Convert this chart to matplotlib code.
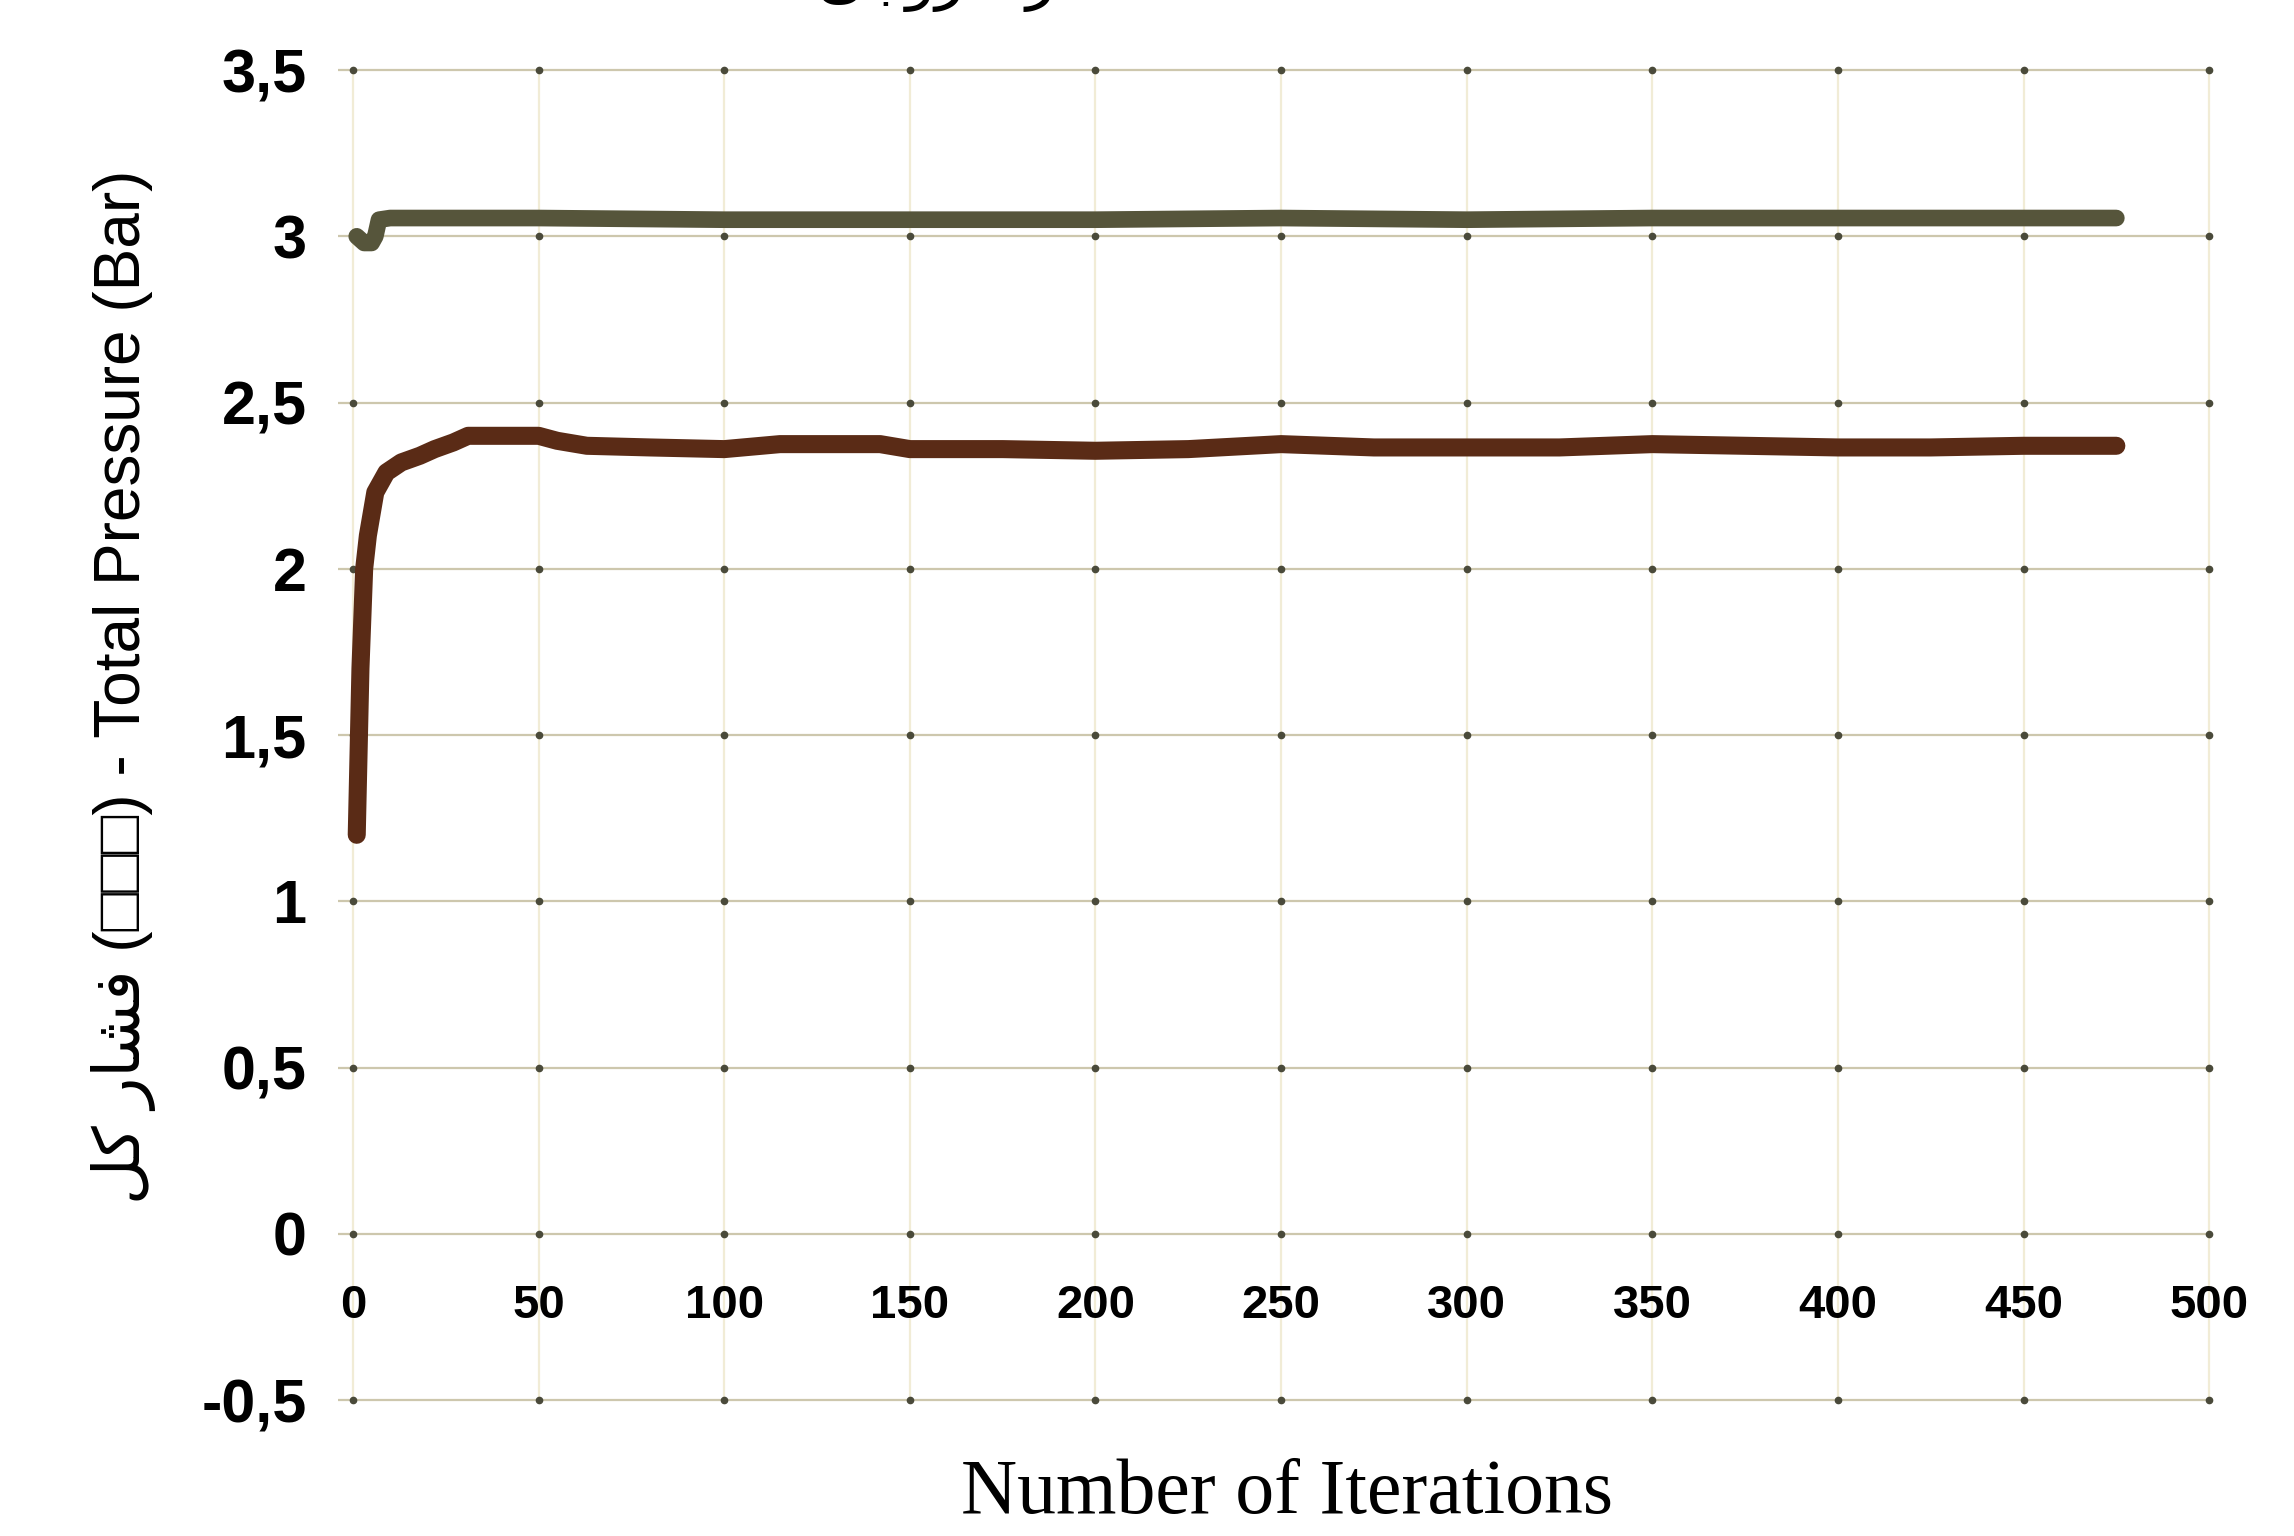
import matplotlib
matplotlib.use("Agg")
import matplotlib.pyplot as plt
from matplotlib import font_manager
import numpy as np

# ---- data ----
upper_x = [1, 3, 5, 6, 7, 10, 20, 50, 100, 150, 200, 250, 300, 350, 400, 450, 475]
upper_y = [3.00, 2.98, 2.98, 3.00, 3.05, 3.055, 3.055, 3.055, 3.05, 3.05, 3.05, 3.055, 3.05, 3.055, 3.055, 3.055, 3.055]

lower_x = [1, 2, 3, 4, 6, 9, 13, 18, 22, 27, 31, 40, 50, 55, 63, 80, 100, 115, 142, 150,
           175, 200, 225, 250, 275, 300, 325, 350, 375, 400, 425, 450, 475]
lower_y = [1.20, 1.70, 2.00, 2.10, 2.23, 2.29, 2.32, 2.34, 2.36, 2.38, 2.40, 2.40, 2.40, 2.385, 2.37, 2.365,
           2.36, 2.375, 2.375, 2.36, 2.36, 2.355, 2.36, 2.375, 2.365, 2.365, 2.365, 2.375, 2.37, 2.365,
           2.365, 2.37, 2.37]

x_ticks = [0, 50, 100, 150, 200, 250, 300, 350, 400, 450, 500]
y_ticks = [-0.5, 0, 0.5, 1, 1.5, 2, 2.5, 3, 3.5]
y_tick_labels = ["-0,5", "0", "0,5", "1", "1,5", "2", "2,5", "3", "3,5"]

title_fa = "\uFBFD\uFE9F\uFEED\uFEAE\uFEA7 \uFEAD\uFE8E\uFEB8\uFED3"   # فشار خروجی (visual order)
title_en = "Outlet Pressure"
ylabel_text = "\uFEDE\uFB90 \uFEAD\uFE8E\uFEB8\uFED3 (\u25A1\u25A1\u25A1) - Total Pressure (Bar)"
xlabel_text = "Number of Iterations"

# ---- fonts ----
names = {f.name for f in font_manager.fontManager.ttflist}
narrow = "Liberation Sans Narrow" if "Liberation Sans Narrow" in names else "Liberation Sans"

fig = plt.figure(figsize=(22.94, 15.36), dpi=100)
ax = fig.add_axes([0.1458, 0.0777, 0.8253, 0.8875])
ax.set_xlim(-5, 505)
ax.set_ylim(-0.55, 3.55)

# grid
ax.hlines(y_ticks, -4, x_ticks[-1], colors="#cdc7ad", lw=1.6, zorder=1)
ax.vlines(x_ticks, y_ticks[0], y_ticks[-1], colors="#f1ecd6", lw=1.6, zorder=1)
gx, gy = np.meshgrid(x_ticks, y_ticks)
ax.plot(gx.ravel(), gy.ravel(), "o", color="#4a4a3a", ms=4.5, zorder=2)

# series
ax.plot(upper_x, upper_y, color="#56553b", lw=12, solid_capstyle="round",
        solid_joinstyle="round", zorder=3)
ax.plot(lower_x, lower_y, color="#5a2b16", lw=13, solid_capstyle="round",
        solid_joinstyle="round", zorder=3)

for s in ax.spines.values():
    s.set_visible(False)
ax.spines["bottom"].set_position(("data", 0))

ax.set_xticks(x_ticks)
ax.set_xticklabels([str(v) for v in x_ticks], fontfamily=narrow, fontweight="bold", fontsize=34)
ax.set_yticks(y_ticks)
ax.set_yticklabels(y_tick_labels, fontfamily="Liberation Sans", fontweight="bold", fontsize=44)
ax.tick_params(axis="x", length=0, pad=36)
ax.tick_params(axis="y", length=0, pad=20)

fig.text(0.054, 0.553, ylabel_text, rotation=90, ha="center", va="center",
         fontsize=46, family=["Liberation Sans", "DejaVu Sans"])
fig.text(0.561, 0.027, xlabel_text, ha="center", va="center",
         fontsize=56, family="Liberation Serif")

fig.text(0.505, 1.002, title_fa, ha="right", va="baseline", fontsize=44,
         family=["DejaVu Sans"], color="black")
fig.text(0.565, 1.002, title_en, ha="left", va="baseline", fontsize=44,
         family=["Liberation Sans"], color="#e2e2e2")

fig.savefig("out.png", dpi=100)
